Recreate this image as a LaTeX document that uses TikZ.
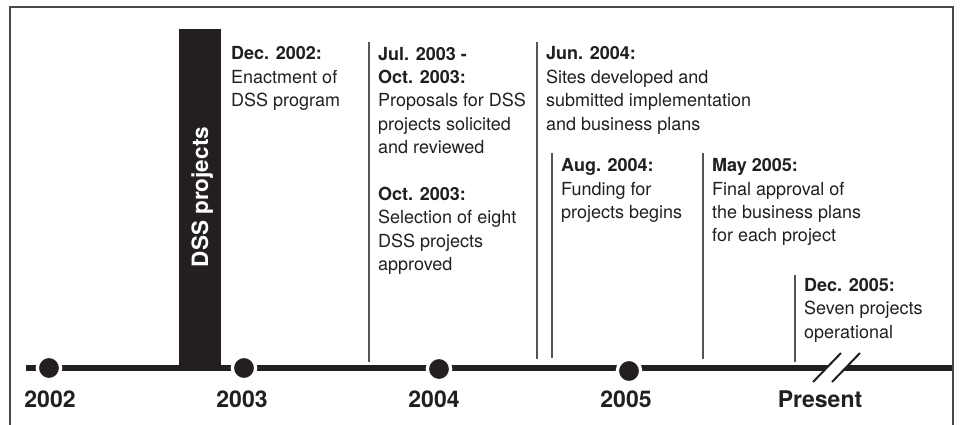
\documentclass[tikz,border=0pt]{standalone}
\usepackage{fontspec}
\setmainfont{TeX Gyre Heros}
\definecolor{ink}{HTML}{231F20}
\definecolor{rulec}{HTML}{555555}
\definecolor{framec}{HTML}{4A4A4A}
\begin{document}
\begin{tikzpicture}[x=1pt,y=-1pt,
  body/.style={anchor=base west,align=left,inner sep=0pt,text=ink,font=\fontsize{18}{23.4}\selectfont},
  year/.style={anchor=base,inner sep=0pt,text=ink,font=\fontsize{23}{27}\selectfont\bfseries},
  dot/.style={circle,fill=ink,draw=white,line width=3.3pt,minimum size=23.3pt,inner sep=0pt},
  vline/.style={draw=rulec,line width=1.5pt},
  tline/.style={draw=ink,line width=6pt}]
\useasboundingbox (0,0) rectangle (967,425);
\fill[white] (0,0) rectangle (967,425);
% frame
\draw[framec,line width=1.4pt] (10,425) -- (10,7) -- (953,7) -- (953,425);
% timeline
\coordinate (tlL) at (26,368);
\coordinate (tlR) at (952,368);
\draw[tline] (tlL) -- (tlR);
% break mark
\fill[white] (830,364.5) -- (849,364.5) -- (843,371.5) -- (824,371.5) -- cycle;
\coordinate (b1a) at (813,382); \coordinate (b1b) at (841,353);
\coordinate (b2a) at (832,382); \coordinate (b2b) at (860,353);
\draw[ink,line width=2pt] (b1a) -- (b1b);
\draw[ink,line width=2pt] (b2a) -- (b2b);
% bar
\fill[ink] (179,29) rectangle (221,368);
\node[rotate=90,anchor=base,inner sep=0pt,text=white,font=\fontsize{22.5}{26}\selectfont\bfseries] (bartxt) at (208,197) {DSS projects};
% dots
\node[dot] (d2002) at (49,368) {};
\node[dot] (d2003) at (244,368) {};
\node[dot] (d2004) at (439,369) {};
\node[dot] (d2005) at (629,371) {};
% year labels
\node[year] (y2002) at (50,407) {2002};
\node[year] (y2003) at (242,407) {2003};
\node[year] (y2004) at (434,407) {2004};
\node[year] (y2005) at (626,407) {2005};
\node[year] (ypres) at (820,407) {Present};
% vertical rules
\coordinate (v1t) at (369,42); \coordinate (v1b) at (369,362);
\coordinate (v2t) at (537,42); \coordinate (v2b) at (537,359);
\coordinate (v3t) at (552,153); \coordinate (v3b) at (552,358);
\coordinate (v4t) at (703,153); \coordinate (v4b) at (703,359);
\coordinate (v5t) at (795,275); \coordinate (v5b) at (795,362);
\draw[vline] (v1t) -- (v1b);
\draw[vline] (v2t) -- (v2b);
\draw[vline] (v3t) -- (v3b);
\draw[vline] (v4t) -- (v4b);
\draw[vline] (v5t) -- (v5b);
% texts (anchored at the baseline of the last line)
\node[body] (t1) at (231,106.8) {\textbf{Dec. 2002:}\\Enactment of\\DSS program};
\node[body] (t2) at (378,270.6) {\textbf{Jul. 2003 -}\\\textbf{Oct. 2003:}\\Proposals for DSS\\projects solicited\\and reviewed\\[23.4pt]\textbf{Oct. 2003:}\\Selection of eight\\DSS projects\\approved};
\node[body] (t3) at (546,130.2) {\textbf{Jun. 2004:}\\Sites developed and\\submitted implementation\\and business plans};
\node[body] (t4) at (561,218.5) {\textbf{Aug. 2004:}\\Funding for\\projects begins};
\node[body] (t5) at (712,241.9) {\textbf{May 2005:}\\Final approval of\\the business plans\\for each project};
\node[body] (t6) at (804,338) {\textbf{Dec. 2005:}\\Seven projects\\operational};
\end{tikzpicture}
\end{document}
